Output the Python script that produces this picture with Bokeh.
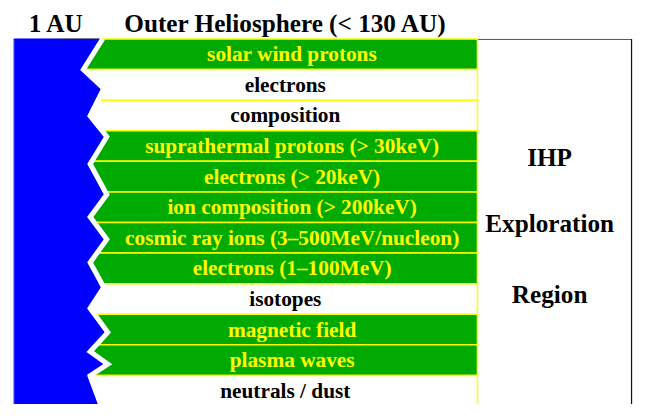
from bokeh.plotting import figure
from bokeh.models import Range1d, ColumnDataSource
from bokeh.core.properties import value
from bokeh.embed import file_html
from bokeh.resources import INLINE

# ---- data ----
row_labels = [
    "solar wind protons",
    "electrons",
    "composition",
    "suprathermal protons (> 30keV)",
    "electrons (> 20keV)",
    "ion composition (> 200keV)",
    "cosmic ray ions (3\u2013500MeV/nucleon)",
    "electrons (1\u2013100MeV)",
    "isotopes",
    "magnetic field",
    "plasma waves",
    "neutrals / dust",
]
row_highlight = [True, False, False, True, True, True, True, True, False, True, True, False]

title_left = "1 AU"
title_main = "Outer Heliosphere (< 130 AU)"
side_labels = ["IHP", "Exploration", "Region"]

# jagged boundary of the 1 AU (blue) region, in reference pixels
edge_x = [102, 82, 103, 89, 106, 89, 106, 89, 106, 89, 103, 89, 107, 89, 107, 89, 100]
edge_y = [39.5, 71.7, 91.7, 120, 141.7, 170, 201.7, 225, 248.3, 272.3, 298.3, 320, 345, 365, 378, 390, 420]

# ---- layout constants ----
ROW_TOP = 40.0
ROW_H = 31.8
ROW_LEFT = 60
ROW_RIGHT = 489
GREEN = "#00AA00"
YELLOW = "#FFFF00"
BLUE = "#0000FF"
FONT = value("Liberation Serif")

p = figure(width=633, height=404, x_range=Range1d(0, 649), y_range=Range1d(420, 0),
           output_backend="svg", toolbar_location=None, x_axis_type=None, y_axis_type=None,
           min_border=0)
p.outline_line_color = None
p.grid.visible = False
p.background_fill_color = "white"

# outer frame
p.line(x=[13, 647], y=[40.5, 40.5], line_color="#555555", line_width=1)
p.line(x=[13.5, 13.5], y=[40, 420], line_color="#9090c0", line_width=1)
p.line(x=[647, 647], y=[40, 420], line_color="#111111", line_width=1.2)

# rows
n = len(row_labels)
tops = [ROW_TOP + i * ROW_H for i in range(n)]
src = ColumnDataSource(dict(
    left=[ROW_LEFT] * n,
    right=[ROW_RIGHT] * n,
    top=tops,
    bottom=[t + ROW_H for t in tops],
    fill=[GREEN if h else "white" for h in row_highlight],
    label=row_labels,
    tcolor=[YELLOW if h else "black" for h in row_highlight],
    tx=[299 if h else 292 for h in row_highlight],
    ty=[t + ROW_H / 2 for t in tops],
))
p.quad(left="left", right="right", top="top", bottom="bottom", source=src,
       fill_color="fill", line_color=YELLOW, line_width=1.5)

# blue 1 AU region with jagged edge
bx = [14] + edge_x + [14]
by = [39.5] + edge_y + [420]
p.patch(x=bx, y=by, fill_color=BLUE, line_color=None)
p.line(x=[v + 3 for v in edge_x], y=edge_y, line_color="white", line_width=5, line_join="miter")

# row labels
p.text(x="tx", y="ty", text="label", source=src, text_color="tcolor",
       text_font=FONT, text_font_style="bold", text_font_size="21.3px",
       text_align="center", text_baseline="middle")

# titles
p.text(x=[29], y=[24], text=[title_left], text_font=FONT, text_font_style="bold",
       text_font_size="25.2px", text_color="black", text_align="left", text_baseline="middle")
p.text(x=[127], y=[24], text=[title_main], text_font=FONT, text_font_style="bold",
       text_font_size="25.2px", text_color="black", text_align="left", text_baseline="middle")

# side labels
p.text(x=[563] * 3, y=[163.5, 232, 306], text=side_labels, text_font=FONT, text_font_style="bold",
       text_font_size="25.2px", text_color="black", text_align="center", text_baseline="middle")

open("out.html", "w").write(file_html(p, INLINE))
